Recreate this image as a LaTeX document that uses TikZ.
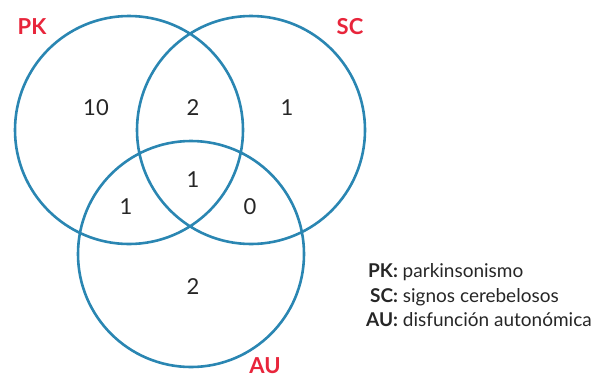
\documentclass[tikz,border=0pt]{standalone}
\usepackage{fontspec}
\setmainfont{Lato}
\definecolor{vennblue}{HTML}{2A86B2}
\definecolor{vennred}{HTML}{E8253B}
\tikzset{
  setlabel/.style={text=vennred, font=\fontsize{22}{24}\selectfont\bfseries},
  count/.style={text=black!85, font=\fontsize{22}{24}\selectfont},
  legend/.style={anchor=base west, inner sep=0pt, text=black!85, font=\fontsize{19}{22}\selectfont}
}
\begin{document}
\begin{tikzpicture}[x=1pt,y=-1pt, line join=round, line cap=round]
	\useasboundingbox (0,0) rectangle (596,378);
	% the three sets
	\draw[vennblue, line width=2.6pt] (129,130) circle[radius=114pt] (251,130) circle[radius=114pt] (191,254) circle[radius=113pt];
	\node[setlabel] (pklab) at (32,27) {PK};
	\node[setlabel] (sclab) at (350,27) {SC};
	\node[setlabel] (aulab) at (265,366) {AU};
	% counts in each region
	\node[count] (pkonly) at (96,108) {10};
	\node[count] (pksc) at (193,108) {2};
	\node[count] (sconly) at (287,108) {1};
	\node[count] (all) at (193,180) {1};
	\node[count] (pkau) at (126,207) {1};
	\node[count] (scau) at (250,207) {0};
	\node[count] (auonly) at (193,287) {2};
	% legend
	\node[legend] (legpk) at (368,277) {\textbf{PK:} parkinsonismo};
	\node[legend] (legsc) at (370,302) {\textbf{SC:} signos cerebelosos};
	\node[legend] (legau) at (366,326) {\textbf{AU:} disfunción autonómica};
\end{tikzpicture}
\end{document}
